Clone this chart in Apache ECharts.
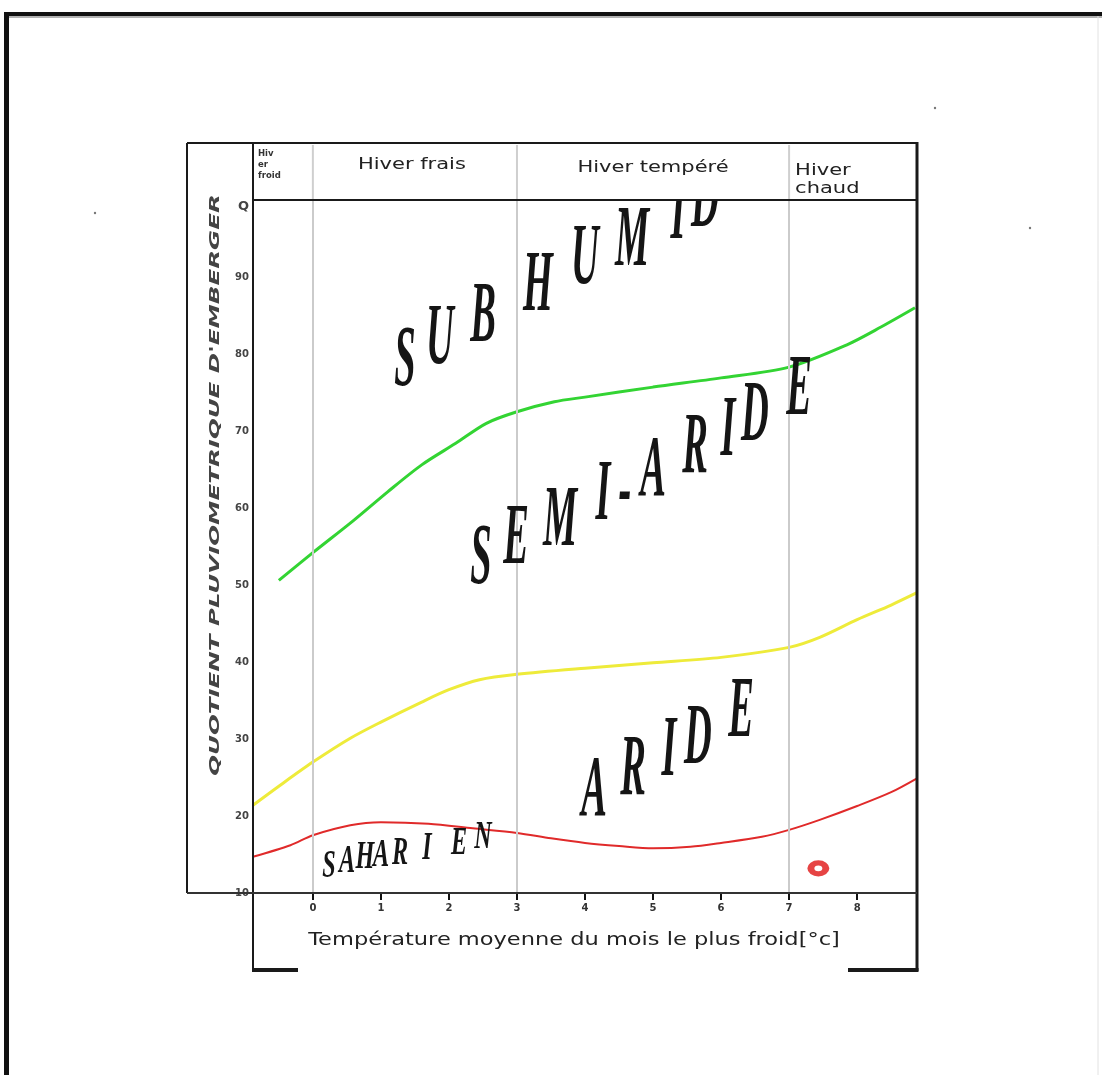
<!DOCTYPE html>
<html>
<head>
<meta charset="utf-8">
<script src="https://cdn.jsdelivr.net/npm/echarts@6/dist/echarts.min.js"></script>
<style>
  html, body { margin: 0; padding: 0; background: #fff; }
  #main { width: 1102px; height: 1075px; }
</style>
</head>
<body>
<div id="main"></div>
<script>
  // Climagramme d'Emberger : Q en fonction de m (température du mois le plus froid)
  const greenT = [-0.5, 0, 0.6, 1.1, 1.6, 2.1, 2.55, 3, 3.55, 4, 5, 6, 7, 7.85, 8.35, 8.85]
  const greenQ = [50.6, 54.2, 58.4, 62.1, 65.6, 68.4, 71.0, 72.5, 73.8, 74.4, 75.7, 76.9, 78.3, 81.2, 83.5, 86.0]

  const yellowT = [-0.88, -0.48, 0, 0.55, 1, 1.6, 2, 2.45, 3, 4, 5, 6, 7, 7.45, 8, 8.5, 8.88]
  const yellowQ = [21.4, 24.0, 27.0, 30.1, 32.2, 34.8, 36.4, 37.7, 38.4, 39.2, 39.9, 40.6, 41.9, 43.2, 45.5, 47.4, 49.0]

  const redT = [-0.88, -0.33, 0, 0.55, 1, 1.7, 2.35, 3, 3.5, 4, 4.5, 5, 5.55, 6, 6.6, 7, 7.45, 8, 8.5, 8.88]
  const redQ = [14.7, 16.2, 17.5, 18.8, 19.2, 19.0, 18.4, 17.8, 17.1, 16.5, 16.1, 15.8, 16.0, 16.5, 17.3, 18.2, 19.5, 21.3, 23.1, 24.9]

  const station = [7.43, 13.2]

  const xTicks = [0, 1, 2, 3, 4, 5, 6, 7, 8]
  const winterBounds = [0, 3, 7]
  const winterNames = ['Hiv\ner\nfroid', 'Hiver frais', 'Hiver tempéré', 'Hiver\nchaud']
  const zoneWords = ['SUBHUMID', 'SEMI-ARIDE', 'ARIDE', 'SAHARIEN']
  const yName = "QUOTIENT PLUVIOMETRIQUE D'EMBERGER"
  const xName = 'Température moyenne du mois le plus froid[°c]'

  // layout (pixels)
  const G = { left: 253, right: 917, top: 200, bottom: 893 }
  const letterCenters = [
    [[405, 363], [440, 341], [483, 319], [538, 288], [585, 261], [632, 243], [678, 216], [705, 204]],
    [[481, 561], [516, 541], [560, 523], [603, 497], [625, 494], [653, 473], [695, 450], [728, 433], [755, 418], [799, 392]],
    [[594, 793], [633, 772], [669, 753], [698, 741], [741, 714]],
    [[329, 867], [347, 862], [365, 858], [381, 856], [400, 854], [427, 849], [459, 844], [483, 838]]
  ]
  const letterSize = [
    { size: 35, sx: 1.1, sy: 2.45 },
    { size: 35, sx: 1.1, sy: 2.45 },
    { size: 35, sx: 1.1, sy: 2.45 },
    { size: 21, sx: 1.15, sy: 1.9 }
  ]

  const pairs = (t, q) => t.map((v, i) => [v, q[i]])

  const chart = echarts.init(document.getElementById('main'))

  chart.setOption({
    backgroundColor: '#fff',
    animation: false,
    grid: {
      left: G.left,
      right: 1102 - G.right,
      top: G.top,
      bottom: 1075 - G.bottom,
      containLabel: false,
      outerBoundsMode: 'none'
    },
    xAxis: {
      type: 'value',
      min: -0.88,
      max: 8.88,
      axisLine: { show: false },
      splitLine: { show: false },
      axisTick: {
        show: true,
        customValues: xTicks,
        length: 7,
        lineStyle: { color: '#111', width: 2 }
      },
      axisLabel: {
        customValues: xTicks,
        margin: 10,
        color: '#333',
        fontSize: 10,
        fontWeight: 'bold',
        fontFamily: 'DejaVu Sans'
      }
    },
    yAxis: {
      type: 'value',
      min: 10,
      max: 100,
      interval: 10,
      axisLine: { show: false },
      axisTick: { show: false },
      splitLine: { show: false },
      axisLabel: {
        margin: 4,
        color: '#444',
        fontSize: 10,
        fontWeight: 'bold',
        fontFamily: 'DejaVu Sans',
        formatter: v => (v === 100 ? '{q|Q}' : String(v)),
        rich: { q: { fontSize: 13, fontWeight: 'bold', color: '#444', fontFamily: 'DejaVu Sans', padding: [14, 0, 0, 0] } }
      }
    },
    series: [
      {
        type: 'line',
        data: [],
        silent: true,
        z: 1,
        markLine: {
          silent: true,
          symbol: 'none',
          label: { show: false },
          lineStyle: { color: '#cbcbcb', width: 2, type: 'solid' },
          data: winterBounds.map(v => ({ xAxis: v }))
        }
      },
      {
        name: 'Sub-humide / semi-aride',
        type: 'line',
        smooth: 0.3,
        showSymbol: false,
        lineStyle: { color: '#33d433', width: 3 },
        data: pairs(greenT, greenQ)
      },
      {
        name: 'Semi-aride / aride',
        type: 'line',
        smooth: 0.3,
        showSymbol: false,
        lineStyle: { color: '#eeeb3a', width: 3 },
        data: pairs(yellowT, yellowQ)
      },
      {
        name: 'Aride / saharien',
        type: 'line',
        smooth: 0.3,
        showSymbol: false,
        lineStyle: { color: '#e02a2a', width: 2 },
        data: pairs(redT, redQ)
      },
      {
        name: 'Station',
        type: 'scatter',
        symbol: 'circle',
        symbolSize: [15, 11],
        itemStyle: { color: '#ffffff', borderColor: '#e01515', borderWidth: 6 },
        data: [station],
        z: 5
      }
    ]
  })

  // annotations: zone names, header, axis names, frames
  const px = v => chart.convertToPixel({ xAxisIndex: 0 }, v)
  const graphics = []

  zoneWords.forEach((word, w) => {
    const st = letterSize[w]
    word.split('').forEach((ch, i) => {
      const c = letterCenters[w][i]
      graphics.push({
        type: 'text', x: c[0], y: c[1], scaleX: st.sx, scaleY: st.sy, z: 10,
        style: {
          text: ch, x: 0, y: 0, fill: '#151515',
          textAlign: 'center', verticalAlign: 'middle', textVerticalAlign: 'middle',
          fontFamily: 'Liberation Serif', fontWeight: 'bold', fontStyle: 'italic', fontSize: st.size
        }
      })
    })
  })

  const line = (x1, y1, x2, y2, w, c, z) => ({
    type: 'line', z: z || 30, shape: { x1, y1, x2, y2 }, style: { stroke: c || '#1a1a1a', lineWidth: w }
  })

  // header band
  graphics.push({ type: 'rect', z: 20, shape: { x: G.left, y: 143, width: G.right - G.left, height: G.top - 143 }, style: { fill: '#fff' } })
  winterBounds.forEach(v => graphics.push(line(px(v), 145, px(v), G.top, 2, '#cfcfcf', 21)))
  const bx = [G.left, ...winterBounds.map(px), G.right]
  graphics.push({
    type: 'text', z: 22, x: G.left + 5, y: 148,
    style: { text: winterNames[0], fill: '#333', fontSize: 8.5, fontWeight: 'bold', fontFamily: 'DejaVu Sans', lineHeight: 11 }
  })
  const headStyle = { fill: '#222', fontSize: 15, fontFamily: 'DejaVu Sans' }
  graphics.push({
    type: 'text', z: 22, x: (bx[1] + bx[2]) / 2 - 3, y: 165, scaleX: 1.4,
    style: Object.assign({ text: winterNames[1], textAlign: 'center', verticalAlign: 'middle' }, headStyle)
  })
  graphics.push({
    type: 'text', z: 22, x: (bx[2] + bx[3]) / 2, y: 168, scaleX: 1.4,
    style: Object.assign({ text: winterNames[2], textAlign: 'center', verticalAlign: 'middle' }, headStyle)
  })
  graphics.push({
    type: 'text', z: 22, x: bx[3] + 6, y: 162, scaleX: 1.4,
    style: Object.assign({ text: winterNames[3], lineHeight: 18 }, headStyle)
  })

  // axis names
  graphics.push({
    type: 'text', z: 22, x: 215, y: 485, rotation: Math.PI / 2, scaleX: 1.75,
    style: {
      text: yName, fill: '#444', textAlign: 'center', verticalAlign: 'middle',
      fontFamily: 'DejaVu Sans', fontWeight: 'bold', fontStyle: 'italic', fontSize: 14
    }
  })
  graphics.push({
    type: 'text', z: 22, x: 574, y: 940, scaleX: 1.25,
    style: {
      text: xName, fill: '#222', textAlign: 'center', verticalAlign: 'middle',
      fontFamily: 'DejaVu Sans', fontSize: 18
    }
  })

  // frames
  graphics.push({ type: 'rect', z: 30, shape: { x: 4, y: 12, width: 1098, height: 4 }, style: { fill: '#111' } })
  graphics.push(line(4, 17, 1102, 17, 1.5, '#999'))
  graphics.push({ type: 'rect', z: 30, shape: { x: 4, y: 12, width: 5, height: 1063 }, style: { fill: '#111' } })
  graphics.push(line(1098, 16, 1098, 1075, 1, '#e2e2e2'))
  graphics.push(line(187, 143, G.right, 143, 2))
  graphics.push(line(187, 143, 187, G.bottom, 2))
  graphics.push(line(G.left, G.top, G.right, G.top, 2))
  graphics.push(line(G.left, 143, G.left, 971, 2))
  graphics.push(line(G.right, 142, G.right, 971, 3))
  graphics.push(line(187, G.bottom, G.right, G.bottom, 2, '#333'))
  graphics.push(line(G.left - 1, 970, 298, 970, 4))
  graphics.push(line(848, 970, G.right + 1.5, 970, 4))

  // scan specks
  ;[[935, 108], [95, 213], [1030, 228]].forEach(p => graphics.push({
    type: 'circle', z: 30, shape: { cx: p[0], cy: p[1], r: 1.2 }, style: { fill: '#777' }
  }))

  chart.setOption({ graphic: { elements: graphics } })
</script>
</body>
</html>
